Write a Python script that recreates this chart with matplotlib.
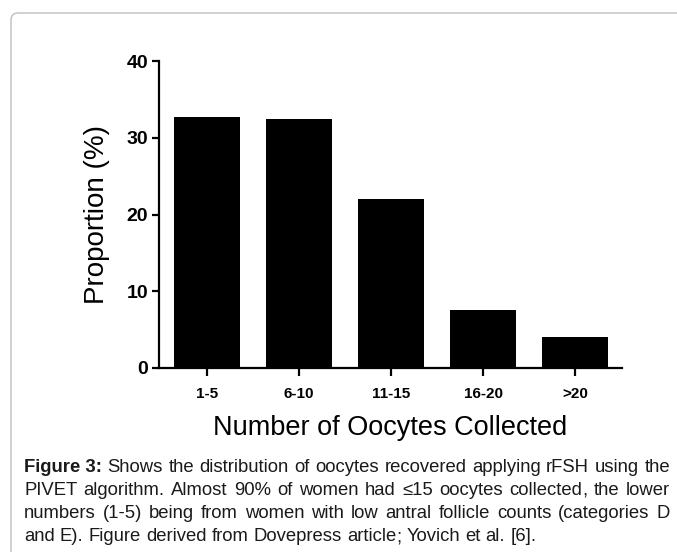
import matplotlib
matplotlib.use("Agg")
import matplotlib.pyplot as plt
from matplotlib.patches import FancyBboxPatch
from matplotlib.transforms import IdentityTransform

categories = ["1-5", "6-10", "11-15", "16-20", ">20"]
proportions = [32.7, 32.4, 22.0, 7.6, 4.1]
yticks = [0, 10, 20, 30, 40]

caption_lines = [
    ["Figure 3:", "Shows", "the", "distribution", "of", "oocytes", "recovered", "applying", "rFSH", "using", "the"],
    ["PIVET", "algorithm.", "Almost", "90%", "of", "women", "had", "≤15", "oocytes", "collected,", "the", "lower"],
    ["numbers", "(1-5)", "being", "from", "women", "with", "low", "antral", "follicle", "counts", "(categories", "D"],
    ["and", "E).", "Figure", "derived", "from", "Dovepress", "article;", "Yovich", "et", "al.", "[6]."],
]

W, H = 677, 552
DPI = 100
plt.rcParams['font.family'] = ['Liberation Sans', 'DejaVu Sans']
fig = plt.figure(figsize=(W / DPI, H / DPI), dpi=DPI)
fig.patch.set_facecolor("white")

# Border (rounded, open to the right and bottom)
border = FancyBboxPatch((11, -30), 720, H - 13 + 30,
                        boxstyle="round,pad=0,rounding_size=7",
                        transform=IdentityTransform(), facecolor="none",
                        edgecolor="#c4c4c4", linewidth=1.1)
fig.patches.append(border)

left, right = 159 / W, 622 / W
bottom, top = 1 - 368 / H, 1 - 61 / H
ax = fig.add_axes([left, bottom, right - left, top - bottom])

x = list(range(len(categories)))
ax.bar(x, proportions, width=0.72, color="black", edgecolor="none")
ax.set_xlim(-0.52, 4.51)
ax.set_ylim(0, 40)
ax.set_xticks(x)
ax.set_xticklabels(categories, fontsize=11, fontweight="bold")
ax.set_yticks(yticks)
ax.set_yticklabels([str(v) for v in yticks], fontsize=14, fontweight="bold")
for s in ["top", "right"]:
    ax.spines[s].set_visible(False)
for s in ["left", "bottom"]:
    ax.spines[s].set_linewidth(1.6)
ax.tick_params(axis="y", length=5, width=1.6, pad=3)
ax.tick_params(axis="x", length=6, width=1.6, pad=8)
ax.set_ylabel("Proportion (%)", fontsize=20, labelpad=12)
ax.set_xlabel("Number of Oocytes Collected", fontsize=19.5, labelpad=10)

# ---- Caption: one text per word, justified ----
x0, x1 = 24, 670
last_target = 548
baselines = [472, 495, 518, 541]
fig.canvas.draw()
renderer = fig.canvas.get_renderer()


def measure(s, fs, bold=False):
    t = fig.text(0, 0, s, fontsize=fs, fontweight="bold" if bold else "normal")
    w = t.get_window_extent(renderer).width
    t.remove()
    return w


def natural_width(words, fs, li):
    sw = measure("a a", fs) - measure("aa", fs)
    ws = [measure(w, fs, bold=(li == 0 and i == 0)) for i, w in enumerate(words)]
    return sum(ws) + sw * (len(words) - 1)


base_fs = 12.0
fs = base_fs * (last_target - x0) / natural_width(caption_lines[-1], base_fs, 3)
max_full = max(natural_width(caption_lines[i], base_fs, i) for i in range(3))
fs = min(fs, base_fs * (x1 - x0) / max_full * 0.995)
space_w = measure("a a", fs) - measure("aa", fs)


def put(s, px, baseline, bold):
    fig.text(px / W, (H - baseline) / H, s, fontsize=fs,
             fontweight="bold" if bold else "normal",
             va="baseline", ha="left", color="#1a1a1a")


for li, (words, R) in enumerate(zip(caption_lines, baselines)):
    bolds = [(li == 0 and wi == 0) for wi in range(len(words))]
    widths = [measure(w, fs, b) for w, b in zip(words, bolds)]
    if li == len(caption_lines) - 1:
        gap = space_w
    else:
        gap = (x1 - x0 - sum(widths)) / (len(words) - 1)
    cx = x0
    for w, b, wd in zip(words, bolds, widths):
        core = w.rstrip(",;")
        if core != w and core:
            # trailing comma / semicolon drawn as its own text to keep the
            # word's baseline consistent with its neighbours
            put(core, cx, R, b)
            cw = measure(w, fs, b) - measure(w[len(core):], fs, b)
            put(w[len(core):], cx + cw, R, b)
        else:
            put(w, cx, R, b)
        cx += wd + gap

fig.savefig("out.png", dpi=DPI, facecolor="white")
